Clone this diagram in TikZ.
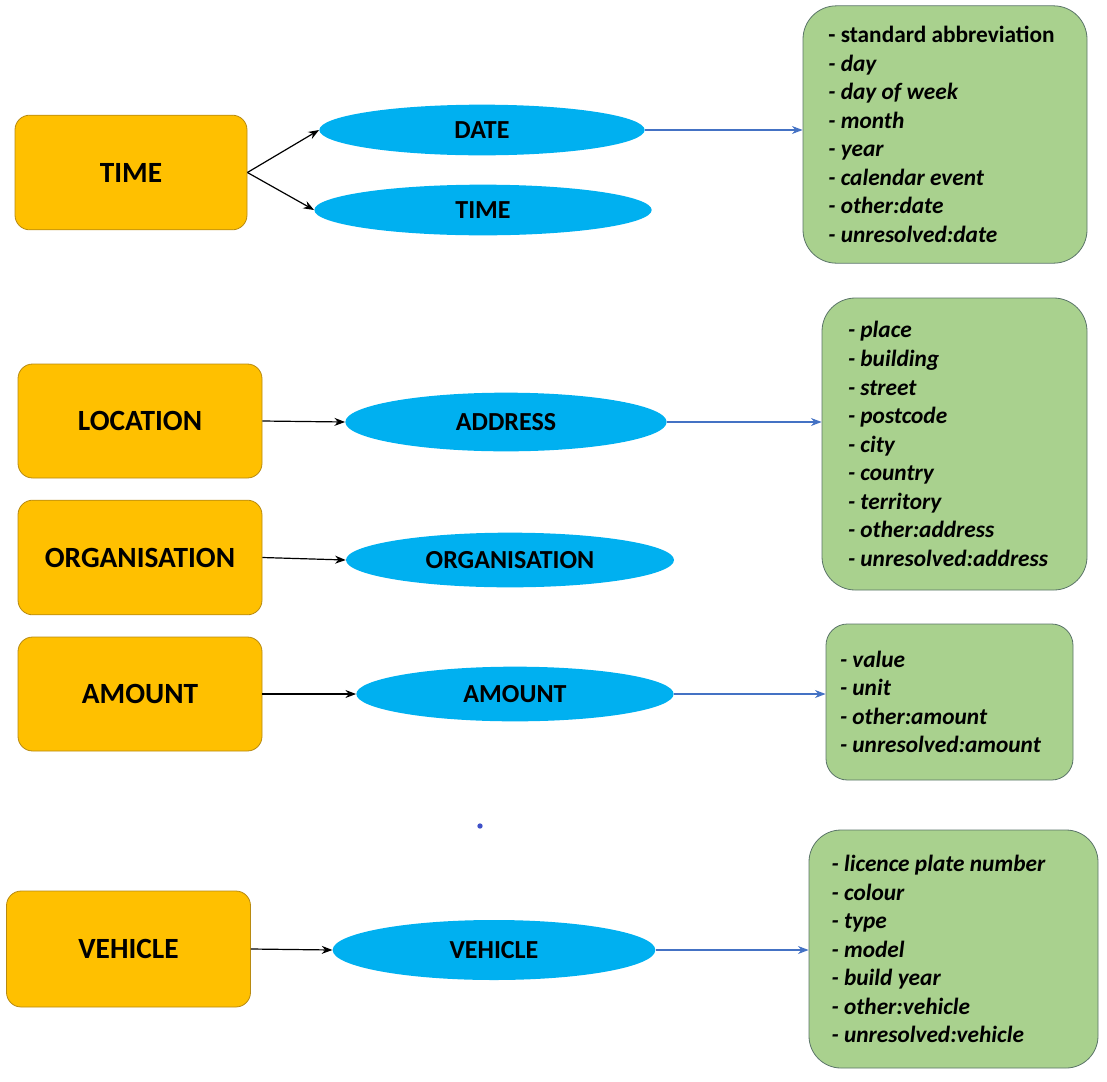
\documentclass[tikz,border=0pt]{standalone}
\usepackage{fontspec}
\setmainfont{Carlito}
\usetikzlibrary{shapes.geometric,arrows.meta}
\definecolor{orangef}{HTML}{FFC000}
\definecolor{oranged}{HTML}{B88A10}
\definecolor{bluef}{HTML}{00B0F0}
\definecolor{greenf}{HTML}{A9D18E}
\definecolor{greend}{HTML}{5A7468}
\definecolor{arrowblue}{HTML}{4472C4}
\definecolor{dotblue}{HTML}{3F51C8}
\begin{document}
\begin{tikzpicture}[x=0.75pt,y=-0.75pt,
  catbox/.style={draw=oranged, line width=0.6pt, fill=orangef, rounded corners=11pt,
    inner sep=0pt, font=\fontsize{22}{26}\selectfont\bfseries},
  subell/.style={ellipse, fill=bluef, inner sep=0pt,
    font=\fontsize{19.5}{23}\selectfont\bfseries},
  listbox/.style={draw=greend, line width=0.6pt, fill=greenf, align=flush left, inner ysep=0pt,
    font=\fontsize{17.5}{21.4}\selectfont\bfseries\itshape},
  blk/.style={-{Stealth[length=8pt,width=6pt]}, line width=0.9pt, black},
  blu/.style={-{Stealth[length=8pt,width=6pt]}, line width=0.8pt, arrowblue}]
\useasboundingbox (0,0) rectangle (1107,1082);

% category boxes
\node[catbox, minimum width=174pt, minimum height=86pt] (ctime) at (131,172.5) {TIME};
\node[catbox, minimum width=183pt, minimum height=85.5pt] (cloc) at (140,421) {LOCATION};
\node[catbox, minimum width=183pt, minimum height=86pt] (corg) at (140,557.5) {ORGANISATION};
\node[catbox, minimum width=183pt, minimum height=85.5pt] (camt) at (140,694) {AMOUNT};
\node[catbox, minimum width=183pt, minimum height=87pt] (cveh) at (128.5,949) {VEHICLE};

% ellipses
\node[subell, minimum width=244pt, minimum height=38pt] (edate) at (482,130) {DATE};
\node[subell, minimum width=253pt, minimum height=38pt] (etime) at (483,210) {TIME};
\node[subell, minimum width=241pt, minimum height=44pt] (eaddr) at (506,422) {ADDRESS};
\node[subell, minimum width=246pt, minimum height=41pt] (eorg) at (510,560) {ORGANISATION};
\node[subell, minimum width=238pt, minimum height=41pt] (eamt) at (515,694) {AMOUNT};
\node[subell, minimum width=242pt, minimum height=45pt] (eveh) at (494,950) {VEHICLE};

% list boxes
\node[listbox, rounded corners=25pt, inner xsep=19pt, text width=175pt, minimum height=193pt] (ldate) at (945,134.5)
  {{\upshape - standard abbreviation}\\- day\\- day of week\\- month\\- year\\- calendar event\\- other:date\\- unresolved:date};
\node[listbox, rounded corners=25pt, inner xsep=19.5pt, text width=159.75pt, minimum height=219pt] (laddr) at (954.5,444)
  {- place\\- building\\- street\\- postcode\\- city\\- country\\- territory\\- other:address\\- unresolved:address};
\node[listbox, rounded corners=16pt, inner xsep=10.5pt, text width=164.25pt, minimum height=117pt] (lamt) at (949.5,702)
  {- value\\- unit\\- other:amount\\- unresolved:amount};
\node[listbox, rounded corners=24pt, inner xsep=17pt, text width=182.75pt, minimum height=178.5pt] (lveh) at (953.5,949)
  {- licence plate number\\- colour\\- type\\- model\\- build year\\- other:vehicle\\- unresolved:vehicle};

% stray dot
\node[circle, fill=dotblue, inner sep=0pt, minimum size=4pt] (dot) at (480,826) {};

% black arrows
\draw[blk] (ctime.east) -- (edate.west);
\draw[blk] (ctime.east) -- (etime.west);
\draw[blk] (cloc.east) -- (eaddr.west);
\draw[blk] (corg.east) -- (eorg.west);
\draw[blk] (camt.east) -- (eamt.west);
\draw[blk] (cveh.east) -- (eveh.west);

% blue arrows
\draw[blu] (edate.east) -- (edate.east -| ldate.west);
\draw[blu] (eaddr.east) -- (eaddr.east -| laddr.west);
\draw[blu] (eamt.east) -- (eamt.east -| lamt.west);
\draw[blu] (eveh.east) -- (eveh.east -| lveh.west);
\end{tikzpicture}
\end{document}
